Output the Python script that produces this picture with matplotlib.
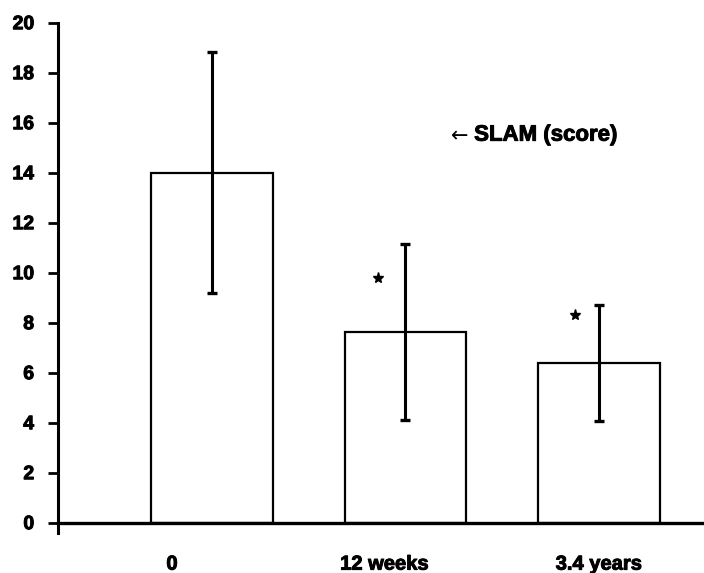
import matplotlib
matplotlib.use('Agg')
import matplotlib.pyplot as plt
import matplotlib.patheffects as pe

plt.rcParams['font.family'] = ['Liberation Sans', 'DejaVu Sans']
plt.rcParams['font.weight'] = 'bold'

# data
groups = ['0', '12 weeks', '3.4 years']
slam_mean = [14.0, 7.62, 6.38]
slam_sd = [4.83, 3.53, 2.32]
star_x = [0.86, 1.876]
star_y = [9.8, 8.3]
label_offset = [-0.207, -0.109, 0.0]
yticks = [0, 2, 4, 6, 8, 10, 12, 14, 16, 18, 20]

heavy = [pe.withStroke(linewidth=0.7, foreground='black')]

fig = plt.figure(figsize=(7.04, 5.73), dpi=100)
ax = fig.add_axes([0.0824, 0.0878 - 0.4 * 25 / 573, 0.9176, 0.8726 + 0.4 * 25 / 573])

x = list(range(len(groups)))
ax.bar(x, slam_mean, width=0.63, color='white', edgecolor='black', linewidth=1.6, zorder=2)
ax.errorbar(x, slam_mean, yerr=slam_sd, fmt='none', ecolor='black',
            elinewidth=2.2, capsize=3.6, capthick=2.4, zorder=3)
ax.plot(star_x, star_y, linestyle='none', marker='*', color='black', markersize=8, zorder=3)

ax.set_ylim(-0.4, 20)
ax.set_xlim(-0.796, 2.543)
ax.spines['top'].set_visible(False)
ax.spines['right'].set_visible(False)
ax.spines['bottom'].set_position(('data', 0))
ax.spines['left'].set_linewidth(2.2)
ax.spines['bottom'].set_linewidth(2.4)
ax.spines['left'].set_bounds(-0.4, 20)

ax.set_yticks(yticks)
ax.set_yticklabels([str(t) for t in yticks], fontsize=14, fontweight='bold')
ax.tick_params(axis='y', direction='out', length=7.2, width=2, pad=10)

ax.set_xticks([xi + o for xi, o in zip(x, label_offset)])
ax.set_xticklabels(groups, fontsize=14.5, fontweight='bold')
ax.tick_params(axis='x', length=0, pad=23)

for lbl in ax.get_xticklabels() + ax.get_yticklabels():
    lbl.set_path_effects(heavy)

# legend-like note: arrow in DejaVu (Liberation's arrow is tiny), text in Liberation
ax.text(1.325, 15.45, '\u2190', fontsize=15, ha='right', va='center',
        family='DejaVu Sans', fontweight='normal')
ax.text(1.355, 15.5, 'SLAM (score)', fontsize=16, fontweight='bold',
        ha='left', va='center', path_effects=heavy)

fig.savefig('out.png', dpi=100)
